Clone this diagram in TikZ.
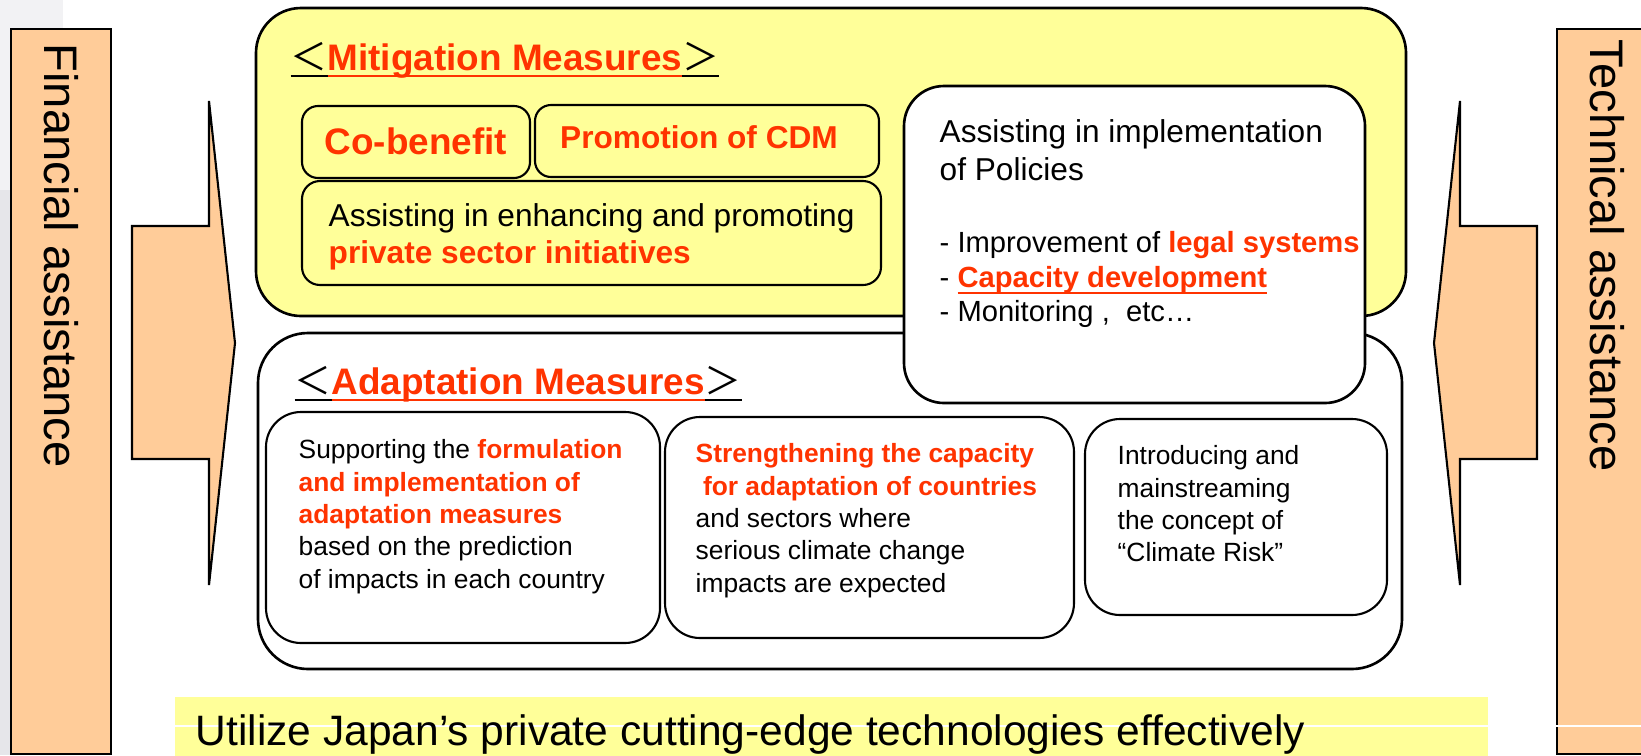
\documentclass[tikz,border=0pt]{standalone}
\usepackage{fontspec}
\setmainfont{Liberation Sans}
\newfontfamily\cjk{Noto Sans CJK JP}
\usetikzlibrary{fit}
\definecolor{jpred}{RGB}{255,51,0}
\definecolor{jpyellow}{RGB}{255,255,153}
\definecolor{jppeach}{RGB}{255,204,153}
\definecolor{jpgray}{RGB}{230,230,234}
\definecolor{jplightgray}{RGB}{242,242,244}
\newsavebox{\undlbox}
\newcommand{\undl}[1]{\sbox\undlbox{#1}\rlap{\rule[-2pt]{\wd\undlbox}{0.7pt}}\usebox\undlbox}
\newcommand{\redbf}[1]{\textcolor{jpred}{\bfseries #1}}

\begin{document}
\begin{tikzpicture}[x=0.1mm, y=-0.1mm,
    panel/.style={draw, line width=0.75pt, inner sep=0pt, rounded corners=#1},
    itembox/.style={draw, line width=0.6pt, inner sep=0pt, rounded corners=#1},
    peach/.style={draw, line width=0.6pt, fill=jppeach},
    sidetext/.style={font=\fontsize{13.4}{16}\selectfont, rotate=-90, anchor=west, inner sep=0pt},
    headtext/.style={font=\fontsize{10.5}{12.6}\selectfont, anchor=base west, inner sep=0pt},
    bodytext/.style={font=\fontsize{9}{10.5}\selectfont, align=left, anchor=north west, inner sep=0pt},
    smalltext/.style={font=\fontsize{7.5}{9.2}\selectfont, align=left, anchor=north west, inner sep=0pt}]

    % Canvas
    \useasboundingbox (0,0) rectangle (1641,755);
    \clip (0,0) rectangle (1641,755);

    % Slide margin
    \fill[jplightgray] (0,0) rectangle (63,190);
    \fill[jpgray] (0,190) rectangle (63,755);

    % Side bars
    \node[peach, inner sep=0pt, fit={(11,29) (111,754)}] (finbar) {};
    \node[sidetext] (fintext) at (61,43) {Financial assistance};
    \node[peach, inner sep=0pt, fit={(1557,29) (1657,754)}] (techbar) {};
    \node[sidetext] (techtext) at (1607,39) {Technical assistance};

    % Arrows
    \draw[peach] (132,226) -- (209,226) -- (209,101) -- (235,343) -- (209,585) -- (209,459) -- (132,459) -- cycle;
    \draw[peach] (1537,226) -- (1460,226) -- (1460,101) -- (1434,343) -- (1460,585) -- (1460,459) -- (1537,459) -- cycle;

    % Mitigation
    \node[panel=4.5mm, fill=jpyellow, fit={(256,8) (1406,316)}] (mitig) {};
    \node[headtext] (mtitle) at (290,70)
        {{\cjk\undl{＜}}\textcolor{jpred}{\bfseries\undl{Mitigation Measures}}{\cjk\undl{＞}}};
    \node[itembox=1.6mm, fit={(302,106) (530,178)}] (cobenefit) {};
    \node[font=\fontsize{10.5}{12.6}\selectfont\bfseries, text=jpred, anchor=base, inner sep=0pt] (cobentext) at (416,154) {Co-benefit};
    \node[itembox=1.6mm, fit={(535,105) (879,177)}] (cdm) {};
    \node[font=\fontsize{9}{10.5}\selectfont\bfseries, text=jpred, anchor=base, inner sep=0pt] (cdmtext) at (699,148) {Promotion of CDM};
    \node[itembox=1.8mm, fit={(302,181) (881,285)}] (private) {};
    \node[bodytext] (privtext) at (328,203)
        {Assisting in enhancing and promoting\\\redbf{private sector initiatives}};

    % Adaptation
    \node[panel=5mm, fill=white, fit={(258,333) (1402,669)}] (adapt) {};
    \node[headtext] (atitle) at (294,394)
        {{\cjk\undl{＜}}\textcolor{jpred}{\bfseries\undl{Adaptation Measures}}{\cjk\undl{＞}}};
    \node[itembox=3.5mm, fit={(266,412) (660,643)}] (adaptA) {};
    \node[smalltext] (adaptAtext) at (298,439)
        {Supporting the \redbf{formulation}\\\redbf{and implementation of}\\\redbf{adaptation measures}\\based on the prediction\\of impacts in each country};
    \node[itembox=3.5mm, fit={(665,417) (1074,638)}] (adaptB) {};
    \node[smalltext] (adaptBtext) at (695,443)
        {\redbf{Strengthening the capacity}\\\redbf{\ for adaptation of countries}\\and sectors where\\serious climate change\\impacts are expected};
    \node[itembox=3.5mm, fit={(1085,419) (1387,615)}] (adaptC) {};
    \node[smalltext] (adaptCtext) at (1117,445)
        {Introducing and\\mainstreaming\\the concept of\\“Climate Risk”};

    % Policies
    \node[panel=4mm, fill=white, fit={(904,86) (1365,403)}] (policies) {};
    \node[bodytext, font=\fontsize{9}{10.8}\selectfont] (polhead) at (939,119)
        {Assisting in implementation\\of Policies};
    \node[bodytext, font=\fontsize{8.3}{9.8}\selectfont] (pollist) at (939,231)
        {- Improvement of \redbf{legal systems}\\- \redbf{\undl{Capacity development}}\\- Monitoring ,\ \ etc…};

    % Banner
    \node[fill=jpyellow, inner sep=0pt, fit={(175,697) (1488,760)}] (banner) {};
    \draw[white, line width=0.4pt] (175,726) -- (1641,726);
    \node[font=\fontsize{12.1}{14}\selectfont, anchor=base west, inner sep=0pt] (bannertext) at (195,745)
        {Utilize Japan’s private cutting-edge technologies effectively};
\end{tikzpicture}
\end{document}
